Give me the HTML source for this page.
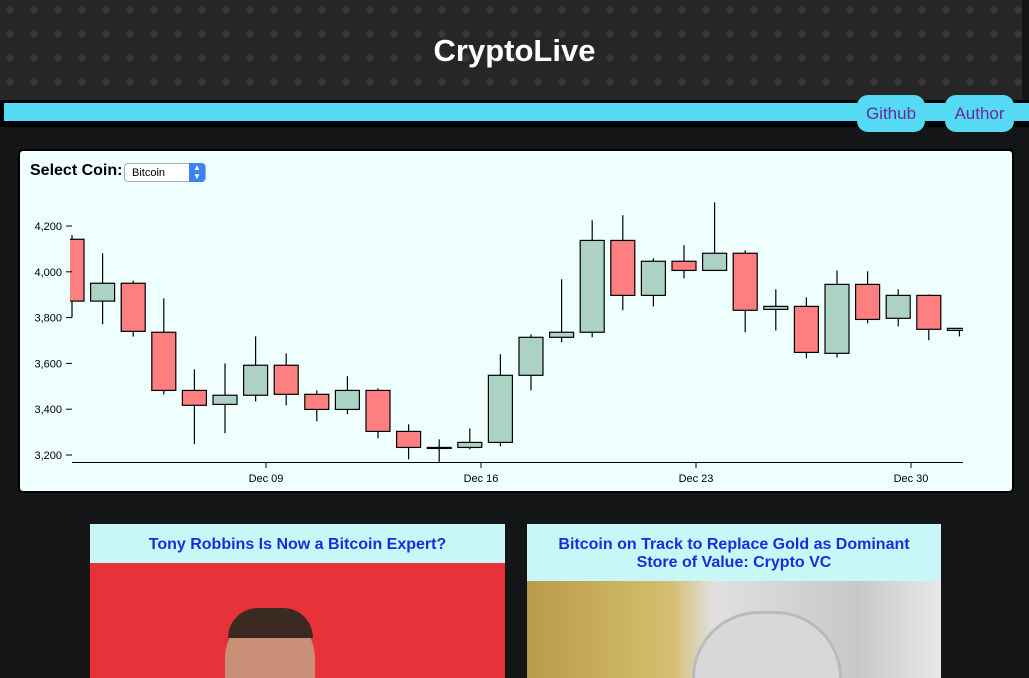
<!DOCTYPE html>
<html style="height:678px;overflow:hidden"><head><meta charset="utf-8"><style>
*{box-sizing:border-box;margin:0;padding:0}
body{width:1029px;height:678px;overflow:hidden;background:#141517;font-family:"Liberation Sans",sans-serif;position:relative}
#hdr{position:absolute;left:0;top:0;width:1022px;height:100px;background:#262626;background-image:radial-gradient(circle at 10px 10px,#3a3a3a 2px,transparent 5px),radial-gradient(circle at 30px 28px,#151515 3px,transparent 6px);background-size:24px 24px}
#title{position:absolute;top:33px;width:1029px;text-align:center;color:#fff;font-weight:bold;font-size:31px}
#bar{position:absolute;left:0;top:100px;width:1029px;height:27px;background:#000}
#bar div{position:absolute;left:4px;top:3px;right:0;height:18px;background:#56d9f3}
.btn{position:absolute;top:95px;height:37px;background:#56d9f3;border-radius:11px;color:#6a2a9a;font-size:17px;text-align:center;line-height:37px}
#panel{position:absolute;left:18px;top:149px;width:996px;height:344px;background:#effffe;border:2px solid #000;border-radius:5px}
#lbl{position:absolute;left:10px;top:11px;font-weight:bold;font-size:16px}
#sel{position:absolute;left:104px;top:12px;width:82px;height:19px;background:#fff;border:1px solid #aaa;border-radius:4px;font-size:11px;padding:3px 0 0 7px}
#sel span{position:absolute;right:0;top:-1px;width:16px;height:19px;background:#3b82f6;border-radius:0 4px 4px 0;color:#fff;font-size:8px;text-align:center;line-height:9px}
.card{position:absolute;top:524px;width:415px;height:154px;background:#c9f7f7;overflow:hidden}
.card h3{color:#1330e0;font-size:16px;text-align:center;padding:12px 8px 0;line-height:18px}
</style></head><body>
<div id="hdr"></div>
<div id="title">CryptoLive</div>
<div id="bar"><div></div></div>
<div class="btn" style="left:857px;width:68px">Github</div>
<div class="btn" style="left:945px;width:69px">Author</div>
<div id="panel">
<div id="lbl">Select Coin:</div>
<div id="sel">Bitcoin<span>▲<br>▼</span></div>
</div>
<svg id="chart" style="position:absolute;left:0;top:0" width="1029" height="678"></svg>
<div class="card" style="left:90px"><h3>Tony Robbins Is Now a Bitcoin Expert?</h3>
<div style="position:absolute;top:39px;left:0;width:415px;height:115px;background:#e8323a;overflow:hidden">
<div style="position:absolute;left:135px;top:50px;width:90px;height:65px;border-radius:45px 45px 0 0;background:#c98f77"></div>
<div style="position:absolute;left:138px;top:45px;width:85px;height:30px;border-radius:40px 40px 0 0;background:#3a2a22"></div></div></div>
<div class="card" style="left:527px;width:414px"><h3 style="padding:12px 26px 0">Bitcoin on Track to Replace Gold as Dominant Store of Value: Crypto VC</h3>
<div style="position:absolute;top:57px;left:0;width:414px;height:97px;background:linear-gradient(90deg,#b89b4a 0,#d6be70 35%,#e0e0e0 45%,#c8c8c8 80%,#e8e8e8 100%);overflow:hidden">
<div style="position:absolute;left:165px;top:30px;width:150px;height:67px;border-radius:75px 75px 0 0;background:#d8d8d8;border:3px solid #bbb;border-bottom:0"></div></div></div>
<script>
const opens  =[4142,3872,3950,3736,3482,3421,3461,3592,3465,3399,3482,3303,3233,3233,3255,3548,3714,3736,4137,3897,4046,4006,4081,3836,3849,3644,3945,3797,3897,3744];
const closes =[3872,3950,3740,3482,3417,3461,3592,3465,3399,3482,3303,3233,3230,3255,3548,3714,3736,4137,3897,4046,4006,4081,3832,3849,3648,3945,3792,3897,3749,3753];
const highs  =[4160,4081,3961,3884,3574,3600,3718,3644,3482,3544,3491,3334,3268,3316,3640,3727,3967,4225,4247,4059,4116,4303,4094,3923,3888,4006,4002,3923,3901,3753];
const lows   =[3800,3771,3717,3465,3247,3295,3434,3417,3347,3378,3273,3181,3170,3225,3238,3482,3692,3714,3832,3849,3971,4006,3736,3744,3622,3626,3775,3762,3701,3718];
const yTicks =[3200,3400,3600,3800,4000,4200];
const xTickDays=[9,16,23,30];
const xTickLabels=["Dec 09","Dec 16","Dec 23","Dec 30"];
const NS="http://www.w3.org/2000/svg",svg=document.getElementById('chart');
const y=v=>455-(v-3200)*0.229;
const xc=i=>72+i*30.6;
const xt=d=>266+(d-9)*30.714;
function mk(t,a,p){const e=document.createElementNS(NS,t);for(const k in a)e.setAttribute(k,a[k]);(p||svg).appendChild(e);return e;}
const defs=mk('defs',{});const cp=mk('clipPath',{id:'cp'},defs);mk('rect',{x:70,y:190,width:893,height:273},cp);
const g=mk('g',{'clip-path':'url(#cp)'});
for(let i=0;i<opens.length;i++){
  const o=opens[i],c=closes[i],x=xc(i);
  const w=mk('line',{x1:x,x2:x,y1:y(highs[i]),y2:y(lows[i]),stroke:'#000','stroke-width':1.2},g);
  
  
  const top=Math.max(o,c),bot=Math.min(o,c);
  const r=mk('rect',{x:x-12,y:y(top),width:24,height:Math.max(1,y(bot)-y(top)),fill:c<o?'#fe7f7f':'#abd2c3',stroke:'#000','stroke-width':1.2},g);
  
  
}
mk('line',{x1:72,x2:963,y1:462.5,y2:462.5,stroke:'#000'});
yTicks.forEach(v=>{
  mk('line',{x1:66,x2:72,y1:y(v),y2:y(v),stroke:'#000'});
  const t=mk('text',{x:62,y:y(v)+4,'text-anchor':'end','font-size':11,'font-family':'Liberation Sans'});t.textContent=v.toLocaleString('en-US');
  
  
});
xTickDays.forEach((d,i)=>{
  mk('line',{x1:xt(d),x2:xt(d),y1:463,y2:468,stroke:'#000'});
  const t=mk('text',{x:xt(d),y:482,'text-anchor':'middle','font-size':11,'font-family':'Liberation Sans'});t.textContent=xTickLabels[i];
  
  
});
</script>
</body></html>
